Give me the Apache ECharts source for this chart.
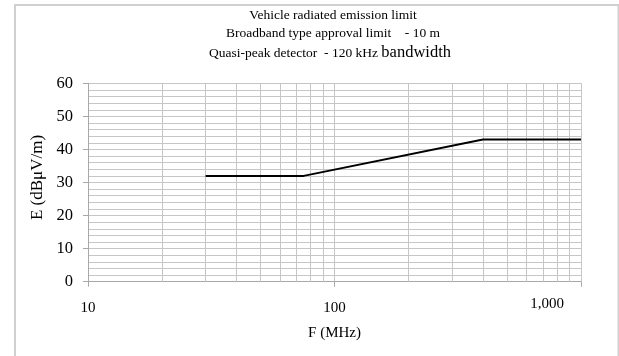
<!DOCTYPE html>
<html>
<head>
<meta charset="utf-8">
<script src="https://cdn.jsdelivr.net/npm/echarts@6/dist/echarts.min.js"></script>
<style>
html,body{margin:0;padding:0;background:#fff;}
#chart{width:619px;height:356px;}
</style>
</head>
<body>
<div id="chart"></div>
<script>
// Data
var freqs = [30, 75, 400, 1000];          // MHz
var limits = [32, 32, 43, 43];            // dBµV/m
var xTickLabels = {10: '10', 100: '100', 1000: '1,000'};
var minorFreqs = [20, 30, 40, 50, 60, 70, 80, 90, 200, 300, 400, 500, 600, 700, 800, 900];
var titleLines = ['Vehicle radiated emission limit', 'Broadband type approval limit    - 10 m'];
var titleLine3a = 'Quasi-peak detector  - 120 kHz';
var titleLine3b = 'bandwidth';

var FONT = '"Liberation Serif", "Times New Roman", serif';
var GRID = '#c6c6c6';
var chart = echarts.init(document.getElementById('chart'), null, {renderer: 'canvas'});

var seriesData = freqs.map(function (f, i) { return [f, limits[i]]; });

chart.setOption({
  animation: false,
  backgroundColor: '#fff',
  textStyle: {fontFamily: FONT},
  grid: {left: 88, right: 38, top: 83.3, bottom: 74.3, containLabel: false},
  graphic: [
    {type: 'rect', shape: {x: 15, y: 5, width: 603.5, height: 360}, style: {fill: 'none', stroke: '#d0d0d0', lineWidth: 2}, z: -1, silent: true},
    {type: 'text', x: 333, y: 15.5, style: {text: titleLines[0], font: '13.5px ' + FONT, fill: '#000', textAlign: 'center', textVerticalAlign: 'middle'}},
    {type: 'text', x: 333, y: 33.5, style: {text: titleLines[1], font: '13.5px ' + FONT, fill: '#000', textAlign: 'center', textVerticalAlign: 'middle'}},
    {type: 'text', x: 330, y: 53, style: {
      text: '{a|' + titleLine3a + '} {b|' + titleLine3b + '}',
      textAlign: 'center', textVerticalAlign: 'middle', fill: '#000',
      rich: {
        a: {fontFamily: FONT, fontSize: 13.5, fill: '#000', color: '#000'},
        b: {fontFamily: FONT, fontSize: 16.5, fill: '#000', color: '#000'}
      }
    }}
  ],
  xAxis: {
    type: 'log', logBase: 10, min: 10, max: 1000,
    name: 'F (MHz)', nameLocation: 'middle', nameGap: 44,
    nameTextStyle: {fontFamily: FONT, fontSize: 15, color: '#000'},
    axisLine: {show: true, lineStyle: {color: '#a8a8a8', width: 1}},
    axisTick: {show: true, length: 5, lineStyle: {color: '#a8a8a8'}},
    axisLabel: {
      margin: 15, fontFamily: FONT, fontSize: 15, color: '#000',
      formatter: function (v) {
        var t = xTickLabels[Math.round(v)] || String(v);
        return Math.round(v) === 1000 ? '{m|' + t + '}' : '{n|' + t + '}';
      },
      rich: {
        n: {fontFamily: FONT, fontSize: 15, color: '#000', padding: [4, 0, 0, 0]},
        m: {fontFamily: FONT, fontSize: 15, color: '#000', padding: [0, 68, 0, 0]}
      }
    },
    splitLine: {show: true, lineStyle: {color: GRID, width: 1}}
  },
  yAxis: {
    type: 'value', min: 0, max: 60, interval: 10,
    name: 'E (dBμV/m)', nameLocation: 'middle', nameGap: 37, nameRotate: 90,
    nameTextStyle: {fontFamily: FONT, fontSize: 17, color: '#000', padding: [0, 0, 0, 10]},
    axisLine: {show: true, lineStyle: {color: '#a8a8a8', width: 1}},
    axisTick: {show: true, length: 5, lineStyle: {color: '#a8a8a8'}},
    axisLabel: {margin: 15, fontFamily: FONT, fontSize: 16.5, color: '#000'},
    splitLine: {show: true, lineStyle: {color: GRID, width: 1}},
    minorTick: {show: false, splitNumber: 5},
    minorSplitLine: {show: true, lineStyle: {color: GRID, width: 1}}
  },
  series: [
    {
      type: 'line', data: [], z: 1, silent: true,
      markLine: {
        silent: true, symbol: ['none', 'none'], animation: false,
        label: {show: false},
        lineStyle: {color: GRID, type: 'solid', width: 1},
        emphasis: {disabled: true},
        data: minorFreqs.map(function (f) { return {xAxis: f}; })
      }
    },
    {
      type: 'line', data: seriesData, z: 5,
      showSymbol: false, symbol: 'none',
      lineStyle: {color: '#000', width: 2},
      silent: true
    }
  ]
});
</script>
</body>
</html>
